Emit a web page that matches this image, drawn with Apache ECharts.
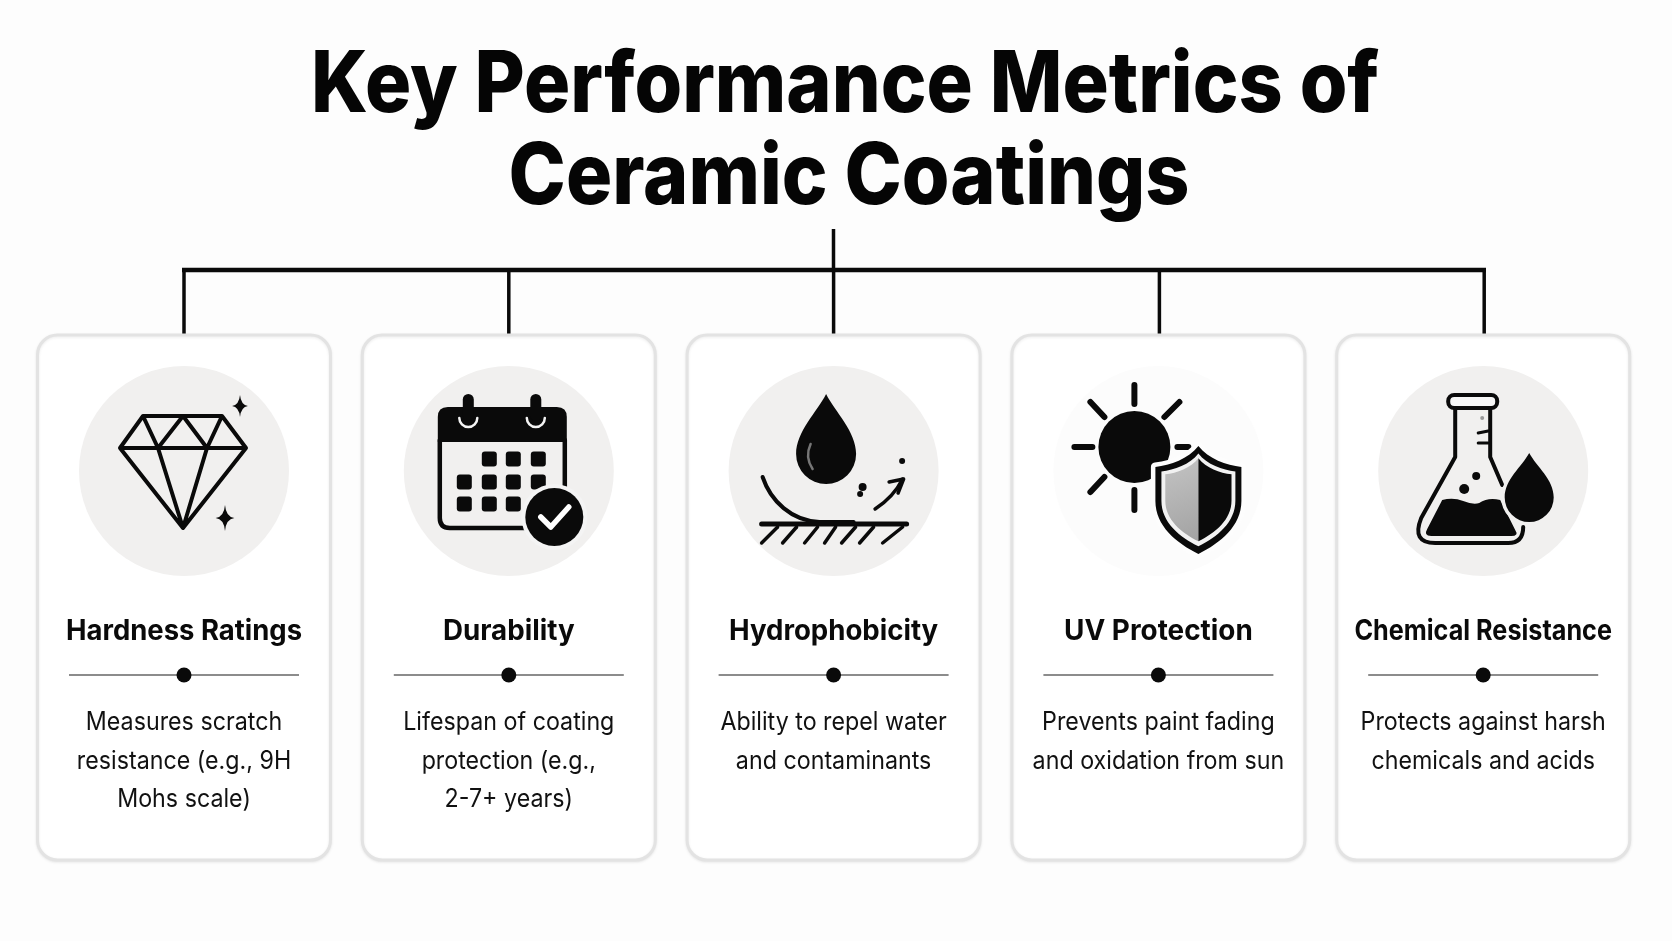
<!DOCTYPE html>
<html>
<head>
<meta charset="utf-8">
<title>Key Performance Metrics of Ceramic Coatings</title>
<style>
html,body{margin:0;padding:0;background:#fdfdfd;}
#main{width:1672px;height:941px;}
</style>
<script src="https://cdn.jsdelivr.net/npm/echarts@6/dist/echarts.min.js"></script>
</head>
<body>
<div id="main"></div>
<script>
var titleLines = ['Key Performance Metrics of', 'Ceramic Coatings'];
var metricNames = ['Hardness Ratings', 'Durability', 'Hydrophobicity', 'UV Protection', 'Chemical Resistance'];
var metricText = [
    ['Measures scratch', 'resistance (e.g., 9H', 'Mohs scale)'],
    ['Lifespan of coating', 'protection (e.g.,', '2-7+ years)'],
    ['Ability to repel water', 'and contaminants'],
    ['Prevents paint fading', 'and oxidation from sun'],
    ['Protects against harsh', 'chemicals and acids']
];

var INK = '#0a0a0a';
var FONT = 'Inter';
// the reference type is set tighter than Inter, squeeze it sideways
var headingSqueeze = [0.98, 0.99, 0.985, 0.995, 0.9];
var bodySqueeze = 0.93;
var titleSqueeze = 0.907;

function stroke(d, w, color){
    return {type:'path', shape:{pathData:d}, style:{fill:null, stroke:color||INK, lineWidth:w, lineJoin:'round', lineCap:'round'}};
}
function fill(d, color){
    return {type:'path', shape:{pathData:d}, style:{fill:color||INK}};
}
function dot(x, y, r, color){
    return {type:'circle', shape:{cx:x, cy:y, r:r}, style:{fill:color||INK}};
}
function sparkle(x, y, r){
    var k = r*0.72;
    return fill('M'+x+' '+(y-r)+'Q'+(x+1)+' '+(y-1)+' '+(x+k)+' '+y+'Q'+(x+1)+' '+(y+1)+' '+x+' '+(y+r)+
        'Q'+(x-1)+' '+(y+1)+' '+(x-k)+' '+y+'Q'+(x-1)+' '+(y-1)+' '+x+' '+(y-r)+'Z');
}
function dropPath(x, top, hw, bottom){
    var cy = bottom-hw, h = bottom-top;
    return 'M'+x+' '+top+'C'+(x+hw*0.3)+' '+(top+h*0.2)+' '+(x+hw)+' '+(cy-hw*0.75)+' '+(x+hw)+' '+cy+
        'A'+hw+' '+hw+' 0 1 1 '+(x-hw)+' '+cy+
        'C'+(x-hw)+' '+(cy-hw*0.75)+' '+(x-hw*0.3)+' '+(top+h*0.2)+' '+x+' '+top+'Z';
}

function diamondIcon(){
    return [
        stroke('M-41 -55L38 -55L62 -23L-1 57L-64 -23ZM-64 -23L62 -23M-41 -55L-26 -23L-1 -55L23 -23L38 -55M-26 -23L-1 57L23 -23', 4),
        sparkle(56, -65, 11),
        sparkle(41, 47, 13)
    ];
}
function calendarIcon(){
    var els = [
        stroke('M-69 -31L-69 47Q-69 57 -59 57L30 57M56 -31L56 30', 4.5),
        fill('M-71 -29L-71 -54Q-71 -64 -61 -64L48 -64Q58 -64 58 -54L58 -29Z')
    ];
    [-40.5, 27].forEach(function(x){
        els.push(stroke('M'+(x-9)+' -53A9 9 0 0 0 '+(x+9)+' -53', 2.5, '#f4f4f4'));
        els.push({type:'rect', shape:{x:x-5.5, y:-77, width:11, height:27, r:5.5}, style:{fill:INK}});
    });
    var cols = [-44.5, -19.5, 4.5, 29.5], rows = [-12, 11, 33];
    rows.forEach(function(y, r){
        cols.forEach(function(x, c){
            if(r==0&&c==0) return;
            els.push({type:'rect', shape:{x:x-7.5, y:y-7.5, width:15, height:15, r:3}, style:{fill:INK}});
        });
    });
    els.push(dot(45.5, 46, 33, '#f4f4f4'));
    els.push(dot(45.5, 46, 29));
    els.push(stroke('M32 46L42 56L60 36', 5.5, '#ffffff'));
    return els;
}
function waterIcon(){
    var tops = [-56, -37, -16, 2, 22, 40, 69];
    var bottoms = [-72, -51, -29, -9, 8, 26, 49];
    var els = [
        fill(dropPath(-7.5, -77, 30, 13)),
        stroke('M-23 -27Q-29 -14 -21 -2', 2.5, '#777777'),
        stroke('M-71 6C-63 30 -42 50 -14 51L20 51', 4),
        stroke('M-72 53L73 53', 5),
        dot(68.5, -10, 3),
        dot(29, 16, 4),
        dot(26.5, 23, 3),
        stroke('M41.5 38Q60 26 69 8', 3.5),
        stroke('M55.5 11L70 8L64.5 22', 3.5)
    ];
    tops.forEach(function(t, i){
        els.push(stroke('M'+t+' 56L'+bottoms[i]+' 72', 3.5));
    });
    return els;
}
function shieldIcon(){
    var S = 'M0 -53C10 -40 28 -34 43 -32L43 2C43 27 22 44 0 55C-22 44 -43 27 -43 2L-43 -32C-28 -34 -10 -40 0 -53Z';
    var L = 'M0 -53C-10 -40 -28 -34 -43 -32L-43 2C-43 27 -22 44 0 55Z';
    var R = 'M0 -53C10 -40 28 -34 43 -32L43 2C43 27 22 44 0 55Z';
    var els = [
        dot(-24, -24, 36),
        stroke('M-24 -86L-24 -67', 6),
        stroke('M-24 19L-24 39', 6),
        stroke('M-84 -24L-66 -24', 6),
        stroke('M19 -24L30 -24', 6),
        stroke('M-68 -69L-54 -54', 6),
        stroke('M21 -69L6 -54', 6),
        stroke('M-68 21L-54 6', 6)
    ];
    els.push({type:'group', x:40, y:28, children:[
        {type:'path', shape:{pathData:S}, style:{fill:INK, stroke:'#fdfdfd', lineWidth:9, lineJoin:'round'}},
        fill(S, INK)
    ]});
    els.push({type:'group', x:40, y:28, scaleX:0.86, scaleY:0.86, children:[fill(S, '#f2f2f2')]});
    els.push({type:'group', x:40, y:28, scaleX:0.77, scaleY:0.77, children:[
        {type:'path', shape:{pathData:L}, style:{fill:{type:'linear', x:0, y:0, x2:1, y2:1, colorStops:[{offset:0,color:'#c4c4c4'},{offset:1,color:'#a2a2a2'}]}}},
        fill(R)
    ]});
    return els;
}
function flaskIcon(){
    return [
        {type:'rect', shape:{x:-35, y:-76, width:49, height:13, r:6}, style:{fill:'#f6f6f6', stroke:INK, lineWidth:4}},
        stroke('M-28 -63L-28 -14L-62 47Q-72 72 -48 72L25 72Q40 72 40 56', 4),
        stroke('M7 -63L7 -14L19 14', 4),
        stroke('M-5 -38L5 -40', 3),
        stroke('M-5 -28L5 -28', 3),
        dot(-1, -53, 2, '#999999'),
        dot(-19, 18, 5),
        dot(-7, 5, 4),
        fill('M-41 29Q-30 26 -20 30Q-10 34 -4 32Q5 26 17 29L32 59Q36 65 28 65L-52 65Q-60 65 -56 58Z'),
        {type:'path', shape:{pathData:dropPath(46, -18, 24.5, 51)}, style:{fill:INK, stroke:'#f1f0ef', lineWidth:7}},
        fill(dropPath(46, -18, 24.5, 51))
    ];
}
var iconMakers = [diamondIcon, calendarIcon, waterIcon, shieldIcon, flaskIcon];
var discColors = ['#f1f0ef', '#f1f0ef', '#f1f0ef', '#fcfcfc', '#f1f0ef'];

function squeezedText(cx, y, text, font, color, sx){
    return {type:'group', x:cx, y:y, scaleX:sx, children:[
        {type:'text', x:0, y:0, style:{text:text, fill:color, font:font, align:'center', verticalAlign:'middle'}}
    ]};
}

function renderCard(params, api){
    var i = params.dataIndex;
    var cx = api.coord([i, 0])[0];
    var y = function(v){ return api.coord([i, v])[1]; };
    var dropX = cx+(i>2?1:0);
    var kids = [
        {type:'line', shape:{x1:dropX, y1:y(269), x2:dropX, y2:y(334)}, style:{stroke:INK, lineWidth:3.5}},
        {type:'rect', shape:{x:cx-146.5, y:y(335), width:293, height:525, r:20},
            style:{fill:'#ffffff', stroke:'#e3e3e3', lineWidth:3, shadowBlur:3, shadowOffsetY:1, shadowColor:'rgba(0,0,0,0.08)'}},
        {type:'circle', shape:{cx:cx, cy:y(471), r:105}, style:{fill:discColors[i]}},
        {type:'group', x:cx, y:y(471), children:iconMakers[i]()},
        squeezedText(cx, y(632), metricNames[i], '700 28px '+FONT, INK, headingSqueeze[i]),
        {type:'line', shape:{x1:cx-115, y1:y(675), x2:cx+115, y2:y(675)}, style:{stroke:'#666666', lineWidth:1.5}},
        {type:'circle', shape:{cx:cx, cy:y(675), r:7.5}, style:{fill:INK}}
    ];
    metricText[i].forEach(function(line, n){
        kids.push(squeezedText(cx, y(722.5+n*38.5), line, '400 25px '+FONT, '#111111', bodySqueeze));
    });
    return {type:'group', children:kids};
}

var myChart = echarts.init(document.getElementById('main'));
myChart.setOption({
    animation:false,
    backgroundColor:'#fdfdfd',
    grid:{left:21.6, width:1624, top:0, height:941},
    xAxis:{type:'category', data:metricNames, show:false},
    yAxis:{type:'value', min:0, max:941, inverse:true, show:false},
    graphic:[
        {type:'line', shape:{x1:833.5, y1:229, x2:833.5, y2:269}, style:{stroke:INK, lineWidth:3.5}, z:5},
        {type:'line', shape:{x1:182, y1:270, x2:1486, y2:270}, style:{stroke:INK, lineWidth:4.5}, z:5},
        {type:'group', x:845, y:86.5, scaleX:titleSqueeze, children:[
            {type:'text', style:{text:titleLines[0], fill:'#050505', font:'800 85px '+FONT, textAlign:'center', textVerticalAlign:'middle'}}
        ]},
        {type:'group', x:849, y:178, scaleX:titleSqueeze, children:[
            {type:'text', style:{text:titleLines[1], fill:'#050505', font:'800 85px '+FONT, textAlign:'center', textVerticalAlign:'middle'}}
        ]}
    ],
    series:[{
        type:'custom',
        silent:true,
        clip:false,
        renderItem:renderCard,
        encode:{x:0},
        data:metricNames.map(function(n, i){ return [i]; })
    }]
});
</script>
</body>
</html>
